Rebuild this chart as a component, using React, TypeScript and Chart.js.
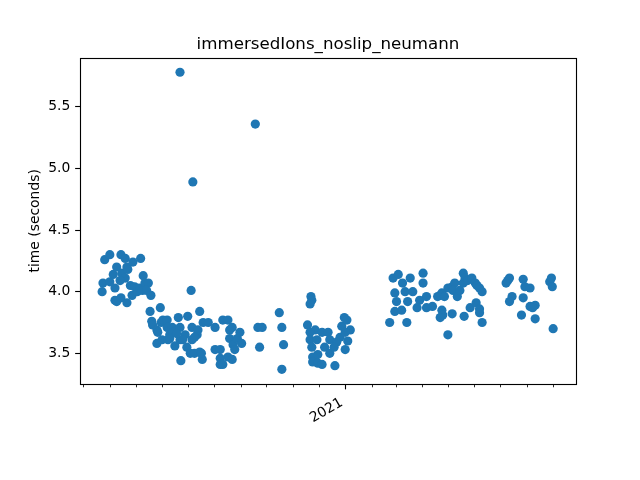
import React, { useEffect, useRef } from 'react';
import { Chart, registerables } from 'chart.js';

Chart.register(...registerables);

const TITLE = 'immersedIons_noslip_neumann';
const Y_LABEL = 'time (seconds)';
const START_DATE = '2020-03-01';

// minor (monthly) ticks and major (yearly) ticks on the date axis
const monthTickDates = [
  '2020-03-01', '2020-04-01', '2020-05-01', '2020-06-01', '2020-07-01', '2020-08-01',
  '2020-09-01', '2020-10-01', '2020-11-01', '2020-12-01', '2021-01-01', '2021-02-01',
  '2021-03-01', '2021-04-01', '2021-05-01', '2021-06-01', '2021-07-01', '2021-08-01',
  '2021-09-01',
];
const majorTickDates = ['2021-01-01'];
const majorTickLabels = ['2021'];

const yTickValues = [3.5, 4.0, 4.5, 5.0, 5.5];
const yTickLabels = ['3.5', '4.0', '4.5', '5.0', '5.5'];

// axis ranges (x in days since START_DATE, y in seconds)
const xRange = [-3.85, 575.7];
const yRange = [3.251, 5.899];

// runs: [days since START_DATE, time in seconds]
const spring2020: [number, number][] = [
  [22, 4.0], [23, 4.07], [25, 4.26], [31, 4.3], [31, 4.08], [35, 4.14], [37, 4.03], [37, 3.93],
  [39, 4.2], [39, 3.92], [44, 4.3], [44, 3.95], [45, 4.15], [49, 4.27], [49, 4.11], [51, 3.91],
  [51, 4.2], [52, 4.18], [55, 4.05], [57, 3.97], [58, 4.24], [60, 4.04], [63, 4.0], [66, 4.03],
  [67, 4.27], [69, 4.01], [70, 4.13], [72, 4.07], [76, 4.07], [74, 4.01], [79, 3.97], [43, 4.09],
];

const outliers2020: [number, number][] = [
  [113, 5.78], [128, 4.89], [201, 5.36], [126, 4.01],
];

const summer2020: [number, number][] = [
  [78, 3.84], [80, 3.76], [81, 3.73], [86, 3.69], [86, 3.58], [87, 3.67], [90, 3.87], [91, 3.75],
  [92, 3.61], [93, 3.77], [98, 3.77], [98, 3.71], [99, 3.61], [101, 3.65], [104, 3.71], [105, 3.67],
  [107, 3.56], [111, 3.79], [113, 3.71], [113, 3.61], [114, 3.44], [119, 3.65], [121, 3.55], [122, 3.8],
  [125, 3.5], [127, 3.71], [127, 3.61], [133, 3.65], [134, 3.69], [136, 3.84], [136, 3.51], [139, 3.45],
  [140, 3.75], [146, 3.75], [154, 3.71], [154, 3.53], [160, 3.53], [160, 3.46], [160, 3.41], [163, 3.77],
  [163, 3.41], [169, 3.77], [169, 3.47], [171, 3.69], [171, 3.62], [174, 3.45], [174, 3.71], [175, 3.57],
  [177, 3.53], [180, 3.62], [183, 3.67], [185, 3.58], [101, 3.62], [116, 3.61], [130, 3.63], [109, 3.66],
  [130, 3.5], [138, 3.5],
];

const autumn2020: [number, number][] = [
  [204, 3.71], [209, 3.71], [206, 3.55], [229, 3.83], [232, 3.71], [234, 3.57], [232, 3.37],
];

const winter2021: [number, number][] = [
  [266, 3.96], [267, 3.93], [265, 3.9], [262, 3.73], [271, 3.69], [265, 3.67], [265, 3.61], [267, 3.55],
  [273, 3.61], [279, 3.67], [286, 3.67], [288, 3.61], [282, 3.55], [268, 3.47], [268, 3.43], [274, 3.49],
  [274, 3.42], [279, 3.41], [288, 3.5], [294, 3.4], [300, 3.63], [302, 3.72], [305, 3.79], [308, 3.77],
  [312, 3.69], [309, 3.6], [306, 3.53], [296, 3.59], [293, 3.55], [306, 3.67],
];

const spring2021: [number, number][] = [
  [358, 3.75], [362, 4.11], [368, 4.14], [373, 4.07], [382, 4.11], [397, 4.15], [397, 4.07], [364, 3.99],
  [376, 4.0], [385, 4.0], [366, 3.92], [379, 3.92], [393, 3.93], [401, 3.96], [414, 3.96], [419, 3.99],
  [364, 3.84], [372, 3.85], [390, 3.87], [401, 3.87], [408, 3.88], [419, 3.85], [378, 3.75], [420, 3.81],
  [426, 3.65],
];

const earlySummer2021: [number, number][] = [
  [417, 3.79], [431, 3.82], [417, 3.97], [422, 3.96], [426, 4.03], [431, 4.04], [434, 4.07], [432, 4.01],
  [437, 3.96], [440, 4.01], [444, 4.15], [446, 4.11], [444, 4.07], [449, 4.09], [454, 4.11], [458, 4.07],
  [460, 4.05], [463, 4.03], [466, 4.0], [445, 3.8], [452, 3.87], [459, 3.91], [463, 3.86], [463, 3.83],
  [466, 3.75],
];

const lateSummer2021: [number, number][] = [
  [494, 4.07], [496, 4.09], [498, 4.11], [501, 3.96], [498, 3.92], [514, 4.1], [516, 4.04], [522, 4.03],
  [514, 3.95], [522, 3.88], [528, 3.89], [525, 3.87], [512, 3.81], [528, 3.78], [545, 4.08], [547, 4.11],
  [548, 4.04], [549, 3.7],
];

const allRuns = [
  ...spring2020, ...outliers2020, ...summer2020, ...autumn2020,
  ...winter2021, ...spring2021, ...earlySummer2021, ...lateSummer2021,
];

const DAY_MS = 86400000;
function dayOffset(iso: string): number {
  const [y, m, d] = iso.split('-').map(Number);
  const [y0, m0, d0] = START_DATE.split('-').map(Number);
  return (Date.UTC(y, m - 1, d) - Date.UTC(y0, m0 - 1, d0)) / DAY_MS;
}

const FONT = '"DejaVu Sans", sans-serif';
const PT = 100 / 72; // matplotlib points -> px at dpi 100
const BLUE = '#1f77b4';

const mplPlugin = {
  id: 'mplDecor',
  afterDraw(chart: any) {
    const { ctx, chartArea: a, scales } = chart;
    const xs = scales.x;
    ctx.save();

    // frame (spines)
    ctx.strokeStyle = '#000';
    ctx.lineWidth = 0.8 * PT;
    const L = Math.round(a.left) + 0.5;
    const R = Math.round(a.right) + 0.5;
    const T = Math.round(a.top) + 0.5;
    const B = Math.round(a.bottom) + 0.5;
    ctx.strokeRect(L, T, R - L, B - T);

    // x tick marks
    const majorDays = majorTickDates.map(dayOffset);
    monthTickDates.forEach((iso) => {
      const d = dayOffset(iso);
      if (majorDays.includes(d)) return;
      const px = Math.round(xs.getPixelForValue(d)) + 0.5;
      ctx.lineWidth = 0.6 * PT;
      ctx.beginPath();
      ctx.moveTo(px, B);
      ctx.lineTo(px, B + 2 * PT);
      ctx.stroke();
    });
    majorDays.forEach((d, i) => {
      const px = Math.round(xs.getPixelForValue(d)) + 0.5;
      ctx.lineWidth = 0.8 * PT;
      ctx.beginPath();
      ctx.moveTo(px, B);
      ctx.lineTo(px, B + 3.5 * PT);
      ctx.stroke();

      // rotated label (matplotlib style: rotated bbox right-aligned to tick, top-aligned)
      const size = 10 * PT;
      ctx.font = `${size}px ${FONT}`;
      const ascent = 0.928 * size;
      const descent = 0.236 * size;
      const h = ascent + descent;
      const ang = (30 * Math.PI) / 180;
      const ox = xs.getPixelForValue(d) - h * Math.sin(ang);
      const oy = a.bottom + 3.5 * PT + 3.5 * PT;
      ctx.save();
      ctx.translate(ox, oy);
      ctx.rotate(-ang);
      ctx.fillStyle = '#000';
      ctx.textAlign = 'right';
      ctx.textBaseline = 'alphabetic';
      ctx.fillText(majorTickLabels[i], 0, ascent);
      ctx.restore();
    });

    // title
    ctx.fillStyle = '#000';
    ctx.font = `${12 * PT}px ${FONT}`;
    ctx.textAlign = 'center';
    ctx.textBaseline = 'alphabetic';
    ctx.fillText(TITLE, (a.left + a.right) / 2, a.top - 6 * PT);

    // y label
    ctx.font = `${10 * PT}px ${FONT}`;
    ctx.save();
    ctx.translate(39.3, (a.top + a.bottom) / 2);
    ctx.rotate(-Math.PI / 2);
    ctx.textAlign = 'center';
    ctx.textBaseline = 'alphabetic';
    ctx.fillText(Y_LABEL, 0, 0);
    ctx.restore();

    ctx.restore();
  },
};

export default function App() {
  const ref = useRef<HTMLCanvasElement>(null);

  useEffect(() => {
    const canvas = ref.current;
    if (!canvas) return;
    const points = allRuns.map(([d, s]) => ({ x: d, y: s }));
    const chart = new Chart(canvas, {
      type: 'scatter',
      data: {
        datasets: [
          {
            data: points,
            backgroundColor: BLUE,
            borderColor: BLUE,
            pointBackgroundColor: BLUE,
            pointBorderColor: BLUE,
            pointBorderWidth: 0,
            pointRadius: 4.6,
            pointHoverRadius: 4.6,
            showLine: false,
          },
        ],
      },
      options: {
        animation: false,
        responsive: false,
        maintainAspectRatio: false,
        devicePixelRatio: 1,
        events: [],
        layout: { padding: { left: 0, right: 64, top: 57.6, bottom: 96 } },
        plugins: {
          legend: { display: false },
          tooltip: { enabled: false },
          title: { display: false },
        },
        scales: {
          x: {
            type: 'linear',
            display: false,
            min: xRange[0],
            max: xRange[1],
          },
          y: {
            type: 'linear',
            min: yRange[0],
            max: yRange[1],
            afterBuildTicks: (s: any) => {
              s.ticks = yTickValues.map((v) => ({ value: v }));
            },
            afterFit: (s: any) => {
              s.width = 80;
            },
            ticks: {
              autoSkip: false,
              color: '#000',
              padding: 3.5 * PT,
              font: { family: FONT, size: 10 * PT },
              callback: (_v: any, i: number) => yTickLabels[i],
            },
            grid: {
              drawOnChartArea: false,
              drawTicks: true,
              tickLength: 3.5 * PT,
              tickColor: '#000',
              tickWidth: 0.8 * PT,
              color: '#000',
            },
            border: { display: false },
          },
        },
      },
      plugins: [mplPlugin],
    });
    return () => chart.destroy();
  }, []);

  return (
    <div style={{ position: 'fixed', left: 0, top: 0, width: 640, height: 480, background: '#fff' }}>
      <canvas ref={ref} width={640} height={480} style={{ display: 'block', width: 640, height: 480 }} />
    </div>
  );
}
